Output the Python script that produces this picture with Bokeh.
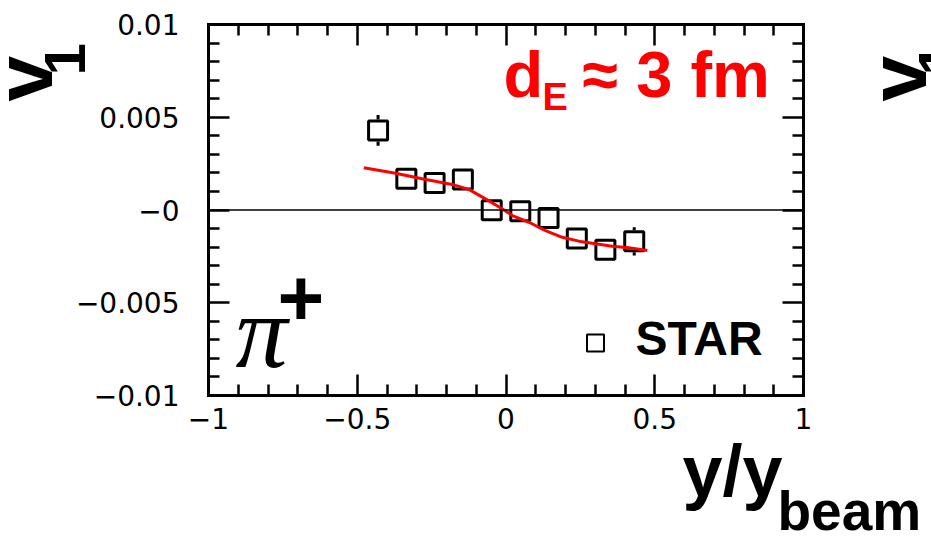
import math
import numpy as np
from bokeh.plotting import figure
from bokeh.models import FixedTicker, LinearAxis, Span, Label, Range1d, GridBox, Row
from bokeh.embed import file_html
from bokeh.resources import INLINE

# ---------------- data ----------------
y_over_ybeam = [-0.43, -0.335, -0.24, -0.145, -0.048, 0.048, 0.143, 0.238, 0.334, 0.431]
v1_star = [0.00429, 0.00169, 0.00146, 0.00165, -0.00001, -0.00007, -0.00043, -0.00154, -0.00214, -0.00169]
v1_star_err = [0.00083, 0.0004, 0.0004, 0.0004, 0.0004, 0.0004, 0.0004, 0.0004, 0.0004, 0.00076]

model_x = [-0.478, -0.371, -0.282, -0.181, -0.125, -0.069, -0.013, 0.021, 0.077,
           0.133, 0.189, 0.245, 0.301, 0.357, 0.413, 0.475]
model_v1 = [0.00228, 0.00198, 0.00168, 0.00138, 0.00111, 0.00060, 0.00007, -0.00030, -0.00066,
            -0.00111, -0.00147, -0.00168, -0.00182, -0.00195, -0.00204, -0.00218]

x_ticks = [-1, -0.5, 0, 0.5, 1]
x_tick_labels = ["\u22121", "\u22120.5", "0", "0.5", "1"]
y_ticks = [-0.01, -0.005, 0, 0.005, 0.01]
y_tick_labels = ["\u22120.01", "\u22120.005", "\u22120", "0.005", "0.01"]

# ---------------- layout constants ----------------
W, H = 931, 541
FL, FR, FT, FB = 208, 803, 24, 395   # frame edges in pixels
XMIN, XMAX, YMIN, YMAX = -1.0, 1.0, -0.01, 0.01
BASE_SHIFT = 0.41                    # alphabetic baseline correction (fraction of font size)


def dx(px):
    return XMIN + (px - FL) * (XMAX - XMIN) / (FR - FL)


def dy(py):
    return YMAX - (py - FT) * (YMAX - YMIN) / (FB - FT)


p = figure(width=W, height=H, x_range=Range1d(XMIN, XMAX), y_range=Range1d(YMIN, YMAX),
           output_backend="svg", toolbar_location=None,
           min_border_left=FL, min_border_right=W - FR, min_border_top=FT, min_border_bottom=H - FB)
p.outline_line_color = None
p.xgrid.visible = False
p.ygrid.visible = False
p.background_fill_color = "white"
p.border_fill_color = "white"

x_minor = [round(v, 2) for v in np.arange(-1, 1.0001, 0.1) if round(v, 2) not in x_ticks]
y_minor = [round(v, 4) for v in np.arange(-0.01, 0.01001, 0.001) if round(v, 4) not in y_ticks]


def style_axis(ax, ticks, minor, labels=None, standoff=10):
    ax.ticker = FixedTicker(ticks=ticks, minor_ticks=minor)
    ax.axis_line_width = 3
    ax.axis_line_color = "black"
    ax.axis_line_cap = "square"
    ax.major_tick_in = 21
    ax.major_tick_out = 0
    ax.minor_tick_in = 11
    ax.minor_tick_out = 0
    ax.major_tick_line_width = 2.5
    ax.minor_tick_line_width = 2.5
    ax.major_tick_line_color = "black"
    ax.minor_tick_line_color = "black"
    if labels is not None:
        ax.major_label_overrides = {t: l for t, l in zip(ticks, labels)}
        ax.major_label_text_font = "DejaVu Sans"
        ax.major_label_text_font_size = "28px"
        ax.major_label_text_color = "black"
        ax.major_label_standoff = standoff
    else:
        ax.major_label_text_color = None
        ax.major_label_text_font_size = "1px"
        ax.major_label_standoff = 0


style_axis(p.xaxis[0], x_ticks, x_minor, x_tick_labels, standoff=12)
style_axis(p.yaxis[0], y_ticks, y_minor, y_tick_labels, standoff=29)
ax_top = LinearAxis()
style_axis(ax_top, x_ticks, x_minor)
p.add_layout(ax_top, "above")
ax_right = LinearAxis()
style_axis(ax_right, y_ticks, y_minor)
p.add_layout(ax_right, "right")

# zero line
p.add_layout(Span(location=0, dimension="width", line_color="black", line_width=1.5))

# error bars drawn outside the open markers
MARKER_SIZE = 19
MARKER_LW = 3
gap = (MARKER_SIZE + MARKER_LW) / 2 * (YMAX - YMIN) / (FB - FT)
sx, sy0, sy1 = [], [], []
for xv, yv, ev in zip(y_over_ybeam, v1_star, v1_star_err):
    if ev > gap:
        sx += [xv, xv]
        sy0 += [yv + gap, yv - ev]
        sy1 += [yv + ev, yv - gap]
p.segment(x0=sx, y0=sy0, x1=sx, y1=sy1, line_color="black", line_width=3)

p.scatter(y_over_ybeam, v1_star, marker="square", size=MARKER_SIZE, fill_color=None,
          line_color="black", line_width=MARKER_LW)

p.line(model_x, model_v1, line_color="#ff0000", line_width=3)

# legend key
p.scatter([dx(595)], [dy(342.5)], marker="square", size=17, fill_color=None,
          line_color="black", line_width=2)


def lab(fig, px, py, text, size, color="black", font="Liberation Sans", style="bold",
        angle=0.0, pixel_coords=False):
    if angle == 0.0:
        py = py - BASE_SHIFT * size
    else:
        px = px - BASE_SHIFT * size
    if pixel_coords:
        x, y = px, py
    else:
        x, y = dx(px), dy(py)
    fig.add_layout(Label(x=x, y=y, text=text, text_font=font, text_font_size=f"{size}px",
                         text_font_style=style, text_color=color, text_align="left",
                         text_baseline="alphabetic", angle=angle))


lab(p, 635, 358, "STAR", 48)
lab(p, 503, 101, "d", 65, color="#ff0000")
lab(p, 542, 112, "E", 38, color="#ff0000")
lab(p, 582, 101, "\u2248 3 fm", 65, color="#ff0000")

lab(p, 235, 374, "\u03c0", 104, font="Liberation Serif", style="italic")
lab(p, 277, 330, "+", 80)

# transparent overlay canvas (pixel coordinates) for the axis titles outside the frame
ov = figure(width=W, height=H, x_range=Range1d(0, W), y_range=Range1d(H, 0),
            output_backend="svg", toolbar_location=None, min_border=0,
            x_axis_location=None, y_axis_location=None)
ov.title.visible = False
ov.outline_line_color = None
ov.background_fill_color = None
ov.border_fill_color = None
ov.xgrid.visible = False
ov.ygrid.visible = False

for shift in (0, 874):
    lab(ov, 57 + shift, 101, "v", 82, angle=math.pi / 2, pixel_coords=True)
    lab(ov, 88 + shift, 75, "1", 58, angle=math.pi / 2, pixel_coords=True)

lab(ov, 682, 500, "y/y", 72, pixel_coords=True)
lab(ov, 777, 533, "beam", 55, pixel_coords=True)

grid = GridBox(children=[(p, 0, 0), (Row(children=[ov], width=W, height=H), 0, 0)])

open("out.html", "w").write(file_html(grid, INLINE))
